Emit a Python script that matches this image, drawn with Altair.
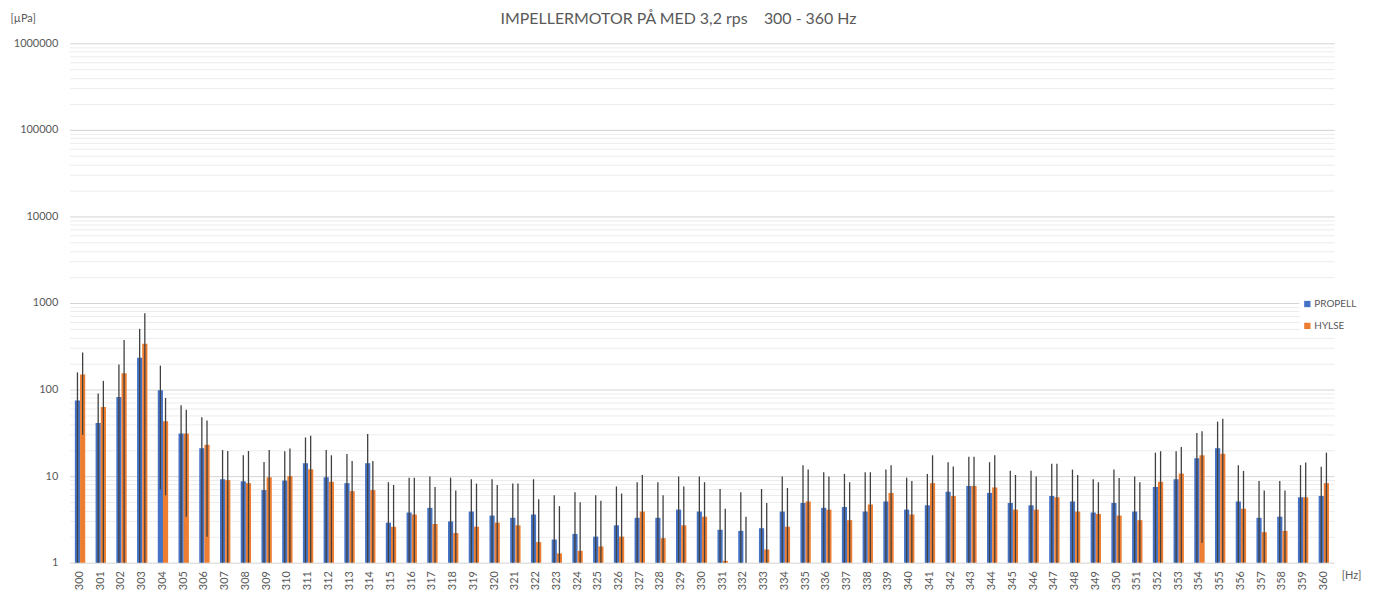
import altair as alt
import pandas as pd

hz = list(range(300, 361))

propell = [75, 41, 82, 233, 98, 31, 21, 9.2, 8.7, 6.9,
           8.9, 14.1, 9.7, 8.3, 14.1, 2.9, 3.8, 4.3, 3.0, 3.9,
           3.5, 3.3, 3.6, 1.85, 2.15, 2.0, 2.7, 3.3, 3.3, 4.1,
           3.9, 2.4, 2.33, 2.5, 3.9, 4.9, 4.3, 4.4, 3.9, 5.1,
           4.1, 4.6, 6.6, 7.7, 6.4, 4.9, 4.6, 5.9, 5.1, 3.8,
           4.9, 3.9, 7.5, 9.2, 16.1, 21, 5.1, 3.3, 3.4, 5.7, 5.9]
propell_err = [83, 49, 113, 270, 91, 35, 27, 10.8, 8.7, 7.7,
               10.5, 13.9, 10.3, 9.7, 16.5, 5.6, 5.8, 5.6, 6.6, 5.3,
               5.7, 4.9, 5.6, 4.15, 4.35, 4.0, 4.9, 5.2, 5.2, 5.8,
               6.0, 4.7, 4.2, 4.6, 6.0, 8.5, 6.8, 6.2, 7.2, 6.8,
               5.5, 6.0, 7.9, 9.1, 8.1, 6.6, 6.9, 8.0, 6.8, 5.4,
               7.0, 6.0, 11.2, 10.2, 15.4, 21.6, 8.3, 5.5, 5.4, 7.7, 6.9]

hylse = [149, 63, 154, 338, 43, 31, 23, 9.0, 8.3, 9.7,
         10, 12.0, 8.6, 6.7, 6.9, 2.6, 3.6, 2.8, 2.2, 2.6,
         2.9, 2.7, 1.73, 1.28, 1.37, 1.54, 2.0, 3.9, 1.92, 2.7,
         3.4, 1.05, 0.9, 1.42, 2.6, 5.1, 4.1, 3.1, 4.7, 6.4,
         3.6, 8.3, 5.9, 7.7, 7.4, 4.1, 4.1, 5.7, 3.9, 3.66,
         3.5, 3.1, 8.6, 10.7, 17.4, 18.1, 4.2, 2.25, 2.33, 5.7, 8.3]
hylse_err = [119, 63, 219, 423, 37, 27.6, 21, 10.5, 11.2, 10.3,
             10.8, 17.3, 8.8, 8.3, 8.1, 5.3, 6.0, 4.7, 4.6, 5.6,
             5.0, 5.5, 3.67, 3.22, 3.63, 3.66, 4.3, 6.4, 4.08, 4.9,
             5.1, 3.15, 2.5, 3.48, 4.7, 6.8, 5.8, 5.4, 6.4, 7.0,
             5.2, 9.1, 7.0, 9.1, 10.0, 6.2, 5.8, 8.2, 6.4, 4.84,
             6.0, 5.4, 10.8, 11.0, 15.7, 27.9, 7.3, 4.55, 4.47, 8.7, 10.4]

series_names = ["PROPELL", "HYLSE"]
series_colors = ["#4472C4", "#ED7D31"]
title_text = "IMPELLERMOTOR PÅ MED 3,2 rps\u00a0\u00a0\u00a0\u00a0300 - 360 Hz"

rows = []
for name, vals, errs in [("PROPELL", propell, propell_err), ("HYLSE", hylse, hylse_err)]:
    for h, v, e in zip(hz, vals, errs):
        lo = v - e
        if lo < 1:
            lo = 1
        rows.append({"hz": str(h), "series": name, "value": v, "lo": lo, "hi": v + e})
df = pd.DataFrame(rows)

decades = [1, 10, 100, 1000, 10000, 100000, 1000000]
tick_vals = [d * m for d in decades[:-1] for m in range(1, 10)] + [decades[-1]]

FONT = "Lato"
GRAY = "#595959"

yscale = alt.Scale(type="log", domain=[1, 1000000], nice=False, clamp=True)
xscale = alt.Scale(paddingInner=0.5, paddingOuter=0.25)

major_test = " || ".join(f"datum.value == {d}" for d in decades)

x_enc = alt.X("hz:N", scale=xscale, sort=None,
              axis=alt.Axis(title="[Hz]", labelAngle=-90, labelFontSize=11, labelColor=GRAY,
                            labelFont=FONT, ticks=False, domain=False, labelPadding=8,
                            titleAngle=0, titleX=1278, titleY=13, titleAlign="left",
                            titleBaseline="middle", titleFont=FONT, titleFontSize=11,
                            titleFontWeight="normal", titleColor=GRAY))

bars = alt.Chart(df).mark_bar().encode(
    x=x_enc,
    xOffset=alt.XOffset("series:N", sort=series_names),
    y=alt.Y("value:Q", scale=yscale,
            axis=alt.Axis(title="[µPa]", values=tick_vals,
                          labelExpr="(" + major_test + ") ? datum.label : ''",
                          format="d", labelFontSize=11, labelColor=GRAY, labelFont=FONT,
                          ticks=False, domain=False, labelPadding=12,
                          gridColor=alt.condition(major_test, alt.value("#d4d4d4"), alt.value("#ececec")),
                          gridWidth=1,
                          titleAngle=0, titleX=-60, titleY=-25, titleAlign="left",
                          titleBaseline="middle", titleFont=FONT, titleFontSize=11,
                          titleFontWeight="normal", titleColor=GRAY)),
    color=alt.Color("series:N", sort=series_names,
                    scale=alt.Scale(domain=series_names, range=series_colors),
                    legend=alt.Legend(title=None, orient="none", legendX=1236, legendY=254,
                                      symbolType="square", symbolSize=40, labelFontSize=10,
                                      labelFont=FONT, labelColor=GRAY, rowPadding=12,
                                      labelOffset=2,
                                      fillColor="white", padding=3)),
)

errs = alt.Chart(df).mark_rule(color="#404040", strokeWidth=1.3).encode(
    x=alt.X("hz:N", scale=xscale, sort=None),
    xOffset=alt.XOffset("series:N", sort=series_names),
    y=alt.Y("lo:Q", scale=yscale),
    y2="hi:Q",
)

title_mark = alt.Chart(pd.DataFrame({"t": [title_text]})).mark_text(
    font=FONT, fontSize=16, color=GRAY, align="center", baseline="middle"
).encode(text="t:N", x=alt.value(612), y=alt.value(-24))

chart = alt.layer(bars, errs, title_mark).properties(
    width=1271, height=522,
    autosize=alt.AutoSizeParams(type="none"),
    padding={"left": 62, "top": 34, "right": 38, "bottom": 40},
).configure_view(stroke=None)

chart.save("out.html", embed_options={"renderer": "svg", "actions": False})
